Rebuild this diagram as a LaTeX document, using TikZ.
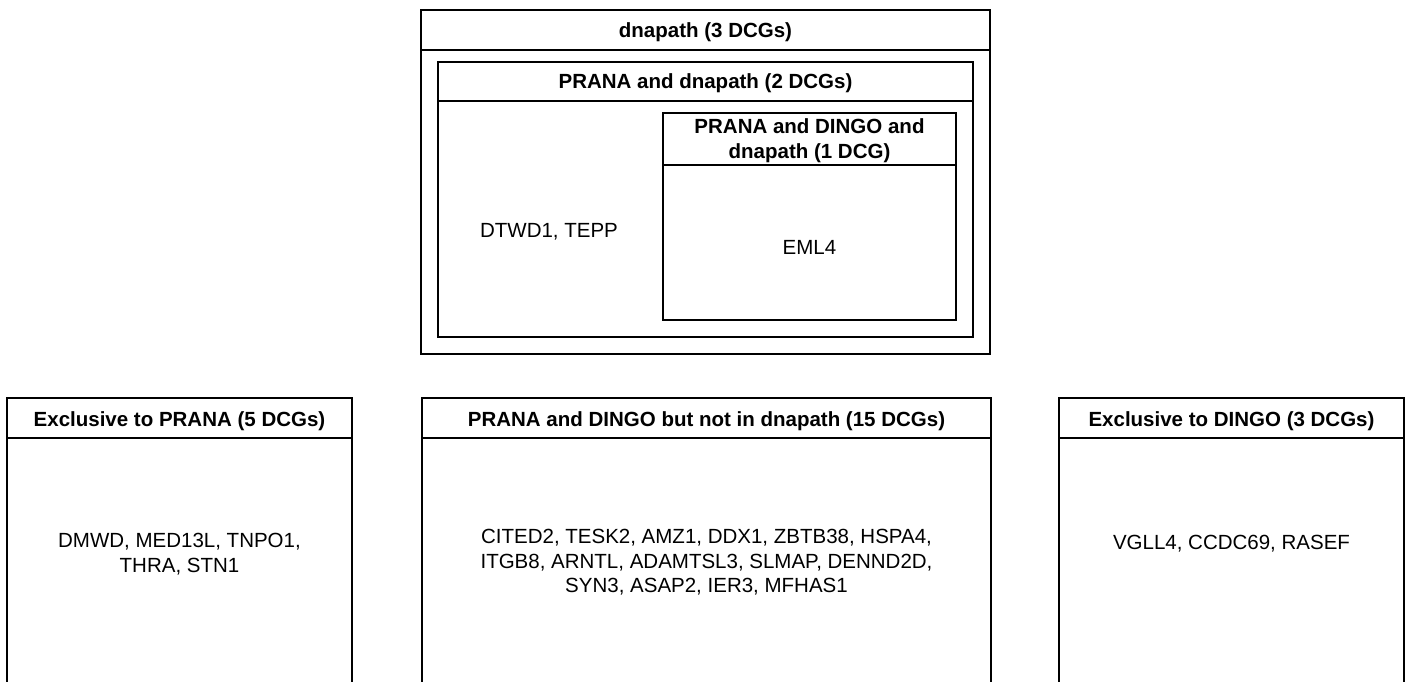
\documentclass[tikz,border=0pt]{standalone}
\usepackage{fontspec}
\setmainfont{Liberation Sans}
\begin{document}
\begin{tikzpicture}[x=1pt,y=-1pt,
  frame/.style={draw=black, line width=1.5pt},
  head/.style={font=\fontsize{20.5}{24.5}\selectfont\bfseries, align=center, inner sep=0pt},
  body/.style={font=\fontsize{20.5}{24.5}\selectfont, align=center, inner sep=0pt}]
\useasboundingbox[fill=white] (0,0) rectangle (1411,681);
% top nested boxes
\draw[frame] (421,10) rectangle (990,354);
\draw[frame] (421,50) -- (990,50);
\draw[frame] (438,62) rectangle (973,337);
\draw[frame] (438,101) -- (973,101);
\draw[frame] (663,113) rectangle (956,320);
\draw[frame] (663,165) -- (956,165);
\node[head, anchor=base] (h1) at (705.5,37.3) {dnapath (3 DCGs)};
\node[head, anchor=base] (h2) at (705.5,88.8) {PRANA and dnapath (2 DCGs)};
\node[head] (h3) at (809.5,140.6) {PRANA and DINGO and\\dnapath (1 DCG)};
\node[body, anchor=base] (t2) at (549,237.3) {DTWD1, TEPP};
\node[body, anchor=base] (t3) at (809.5,254.3) {EML4};
% bottom boxes
\draw[frame] (7,690) -- (7,398) -- (352,398) -- (352,690);
\draw[frame] (7,438) -- (352,438);
\draw[frame] (422,690) -- (422,398) -- (991,398) -- (991,690);
\draw[frame] (422,438) -- (991,438);
\draw[frame] (1059,690) -- (1059,398) -- (1404,398) -- (1404,690);
\draw[frame] (1059,438) -- (1404,438);
\node[head, anchor=base] (hp) at (179.5,426) {Exclusive to PRANA (5 DCGs)};
\node[head, anchor=base] (hb) at (706.5,426) {PRANA and DINGO but not in dnapath (15 DCGs)};
\node[head, anchor=base] (hd) at (1231.5,426) {Exclusive to DINGO (3 DCGs)};
\node[body] (tp) at (179.5,554) {DMWD, MED13L, TNPO1,\\THRA, STN1};
\node[body] (tb) at (706.5,562.5) {CITED2, TESK2, AMZ1, DDX1, ZBTB38, HSPA4,\\ITGB8, ARNTL, ADAMTSL3, SLMAP, DENND2D,\\SYN3, ASAP2, IER3, MFHAS1};
\node[body, anchor=base] (td) at (1231.5,549.3) {VGLL4, CCDC69, RASEF};
\end{tikzpicture}
\end{document}
